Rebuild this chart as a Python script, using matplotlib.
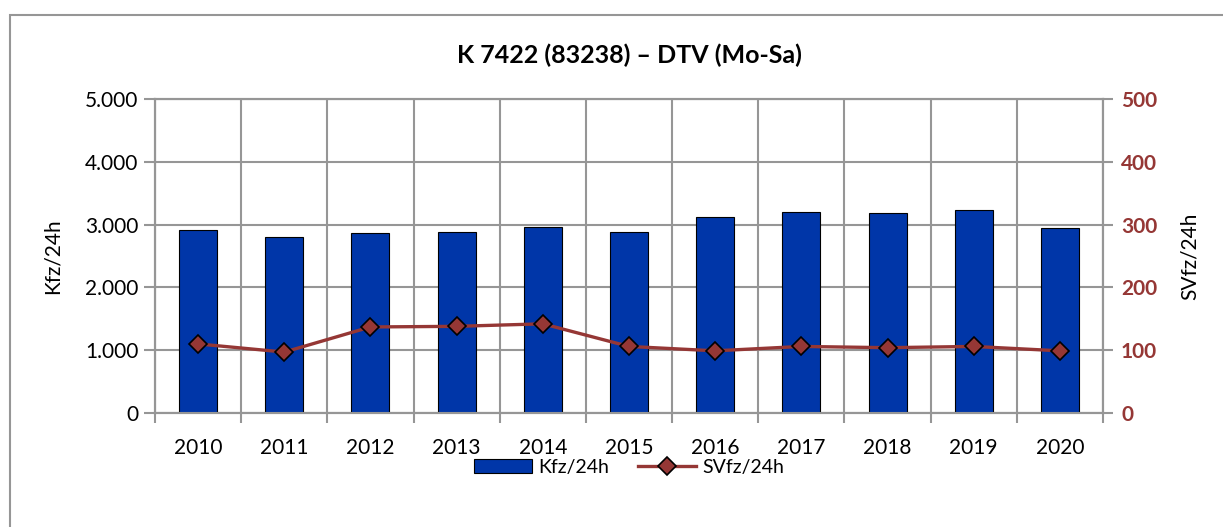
import matplotlib
matplotlib.use("Agg")
import matplotlib.pyplot as plt
from matplotlib.ticker import FuncFormatter, FixedLocator
from matplotlib.patches import Rectangle

plt.rcParams['font.family'] = ['Lato', 'DejaVu Sans']

# data
years = ['2010', '2011', '2012', '2013', '2014', '2015', '2016', '2017', '2018', '2019', '2020']
kfz = [2920, 2805, 2860, 2878, 2958, 2877, 3120, 3196, 3180, 3232, 2942]
svfz = [110, 97, 137, 138, 142, 106, 99, 106, 104, 106, 99]
sv_ticks = [0, 100, 200, 300, 400, 500]

bar_col = '#0036A8'
line_col = '#953735'
grid_col = '#969696'

fig = plt.figure(figsize=(12.23, 5.27), dpi=100)
# outer chart frame
fig.patches.append(Rectangle((10/1223, -0.05), 1.1, 1 - 15/527 + 0.05, transform=fig.transFigure,
                             fill=False, edgecolor=grid_col, linewidth=1.5))

ax = fig.add_axes([155/1223, 114/527, 948/1223, 314/527])
x = list(range(len(years)))
ax.bar(x, kfz, width=0.44, color=bar_col, edgecolor='black', linewidth=0.8,
       label='Kfz/24h', zorder=3)
ax.set_xlim(-0.5, len(years) - 0.5)
ax.set_ylim(0, 5000)
ax.set_yticks(range(0, 5001, 1000))
ax.yaxis.set_major_formatter(FuncFormatter(lambda v, p: f'{int(v):,}'.replace(',', '.')))
ax.set_xticks(x)
ax.set_xticklabels(years)
ax.xaxis.set_minor_locator(FixedLocator([i - 0.5 for i in range(len(years) + 1)]))
ax.tick_params(axis='x', which='major', length=0, labelsize=15, pad=18)
ax.tick_params(axis='x', which='minor', length=7, color=grid_col, width=1.5)
ax.tick_params(axis='y', length=8, color=grid_col, width=1.5, labelsize=15, pad=4)
ax.grid(True, axis='y', color=grid_col, linewidth=1.5, zorder=0)
ax.grid(True, axis='x', which='minor', color=grid_col, linewidth=1.5, zorder=0)
for s in ax.spines.values():
    s.set_color(grid_col)
    s.set_linewidth(1.5)
ax.set_ylabel('Kfz/24h', fontsize=15, labelpad=16)

ax2 = ax.twinx()
ax2.plot(x, svfz, color=line_col, linewidth=2.4, marker='D', markersize=9,
         markerfacecolor=line_col, markeredgecolor='black', markeredgewidth=1.2,
         label='SVfz/24h', zorder=4)
ax2.set_ylim(0, 500)
ax2.set_yticks(sv_ticks)
ax2.set_yticklabels([str(t) for t in sv_ticks], fontweight='bold', fontsize=15, color=line_col)
ax2.tick_params(axis='y', length=7, color=grid_col, width=1.5, pad=6)
for s in ax2.spines.values():
    s.set_color(grid_col)
    s.set_linewidth(1.5)
ax2.set_ylabel('SVfz/24h', fontsize=15, labelpad=16)

fig.text(629/1223, 1 - 55/527, 'K 7422 (83238) – DTV (Mo-Sa)', ha='center', va='center',
         fontsize=18, fontweight='bold')

h1, l1 = ax.get_legend_handles_labels()
h2, l2 = ax2.get_legend_handles_labels()
fig.legend(h1 + h2, l1 + l2, loc='center', bbox_to_anchor=(629/1223, 1 - 467/527), ncol=2,
           frameon=False, fontsize=14, handlelength=3, columnspacing=1.5, handletextpad=0.3)

fig.savefig('out.png', dpi=100)
